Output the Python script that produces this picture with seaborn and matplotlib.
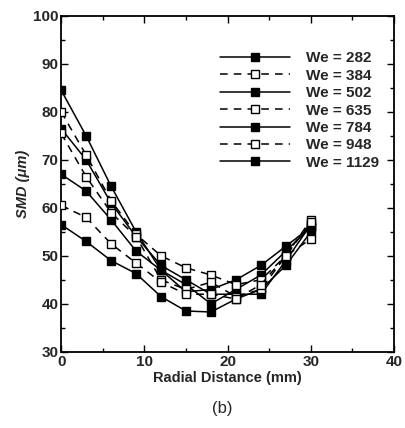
import matplotlib
matplotlib.use("Agg")
import matplotlib.pyplot as plt
import seaborn as sns
import pandas as pd
from matplotlib.ticker import MultipleLocator

radial = [0, 3, 6, 9, 12, 15, 18, 21, 24, 27, 30]
we_labels = ["We = 282", "We = 384", "We = 502", "We = 635", "We = 784", "We = 948", "We = 1129"]
smd_282 = [84.5, 75.0, 64.5, 55.0, 47.0, 44.0, 40.0, 43.0, 46.0, 51.0, 56.0]
smd_384 = [80.0, 71.0, 61.5, 54.5, 50.0, 47.5, 46.0, 44.0, 45.0, 50.0, 57.5]
smd_502 = [76.5, 70.0, 61.0, 54.0, 48.0, 45.0, 42.0, 42.0, 42.0, 49.0, 56.5]
smd_635 = [75.5, 66.5, 59.0, 54.0, 45.0, 43.0, 44.5, 41.5, 43.0, 50.0, 53.5]
smd_784 = [67.0, 63.5, 57.5, 51.0, 47.0, 42.5, 43.0, 45.0, 48.0, 52.0, 56.0]
smd_948 = [60.5, 58.0, 52.5, 48.5, 44.5, 42.0, 42.0, 41.0, 44.0, 50.0, 57.0]
smd_1129 = [56.5, 53.0, 49.0, 46.3, 41.5, 38.5, 38.3, 41.0, 43.0, 48.0, 55.0]
series = [smd_282, smd_384, smd_502, smd_635, smd_784, smd_948, smd_1129]

sns.set_style("white")
plt.rcParams['font.family'] = ['Liberation Sans', 'DejaVu Sans']

fig = plt.figure(figsize=(4.05, 4.28), dpi=100)
ax = fig.add_axes([0.151, 0.178, 0.822, 0.785])

for i, (lab, vals) in enumerate(zip(we_labels, series)):
    df = pd.DataFrame({"r": radial, "smd": vals})
    is_open = (i % 2 == 1)
    sns.lineplot(data=df, x="r", y="smd", ax=ax, color="black", linewidth=1.1,
                 linestyle=(0, (5, 4)) if is_open else "-",
                 marker="s", markersize=6.3,
                 markerfacecolor="white" if is_open else "black",
                 markeredgecolor="black", markeredgewidth=1.0,
                 label=lab, zorder=3 if is_open else 2)

ax.set_xlim(0, 40)
ax.set_ylim(30, 100)
ax.xaxis.set_major_locator(MultipleLocator(10))
ax.xaxis.set_minor_locator(MultipleLocator(5))
ax.yaxis.set_major_locator(MultipleLocator(10))
ax.yaxis.set_minor_locator(MultipleLocator(5))
ax.tick_params(which="both", direction="in", top=True, right=True, bottom=True, left=True,
               labelsize=11, width=1.0, color="black", pad=2)
ax.tick_params(which="major", length=5)
ax.tick_params(which="minor", length=3)
for t in ax.get_xticklabels() + ax.get_yticklabels():
    t.set_fontweight("bold")
for s in ax.spines.values():
    s.set_color("black")
    s.set_linewidth(1.3)

ax.set_xlabel("Radial Distance (mm)", fontsize=10.5, fontweight="bold", labelpad=2)
ax.set_ylabel("SMD (μm)", fontsize=10.5, fontweight="bold", style="italic", labelpad=2)

leg = ax.legend(loc="upper right", bbox_to_anchor=(0.995, 0.935), frameon=False,
                handlelength=4.6, labelspacing=0.22, handletextpad=1.0,
                markerscale=0.85, prop={"size": 11, "weight": "bold"})

fig.text(0.548, 0.045, "(b)", ha="center", va="center", fontsize=12)

fig.savefig("out.png", dpi=100)
